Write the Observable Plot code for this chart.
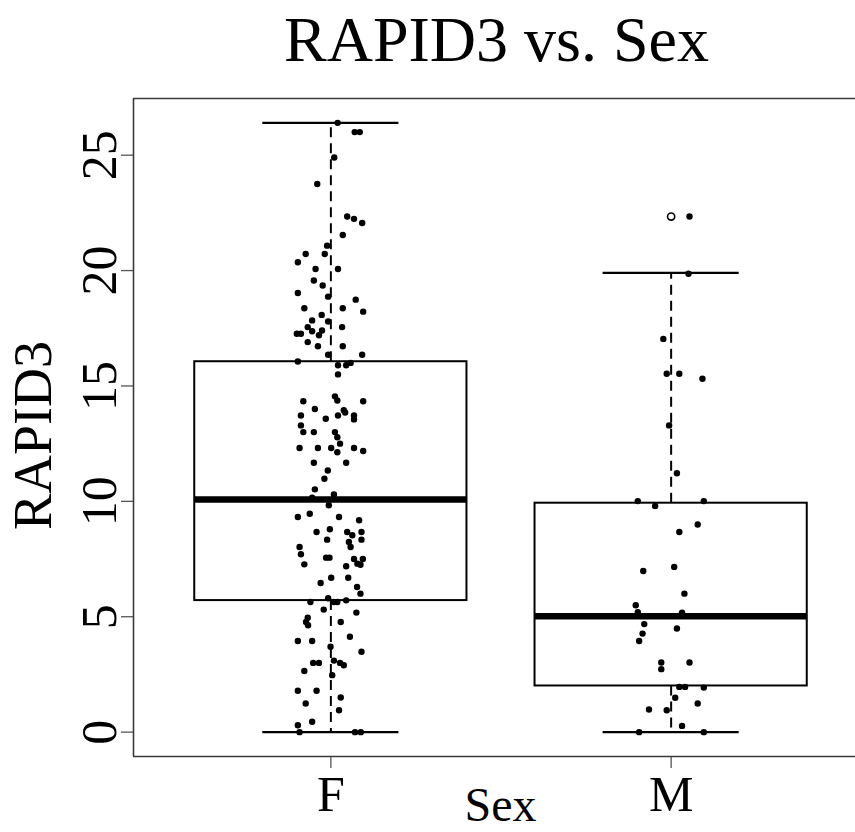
<!DOCTYPE html>
<html><head><meta charset="utf-8">
<script src="https://cdn.jsdelivr.net/npm/d3@7"></script>
<script src="https://cdn.jsdelivr.net/npm/@observablehq/plot@0.6"></script>
<style>body{margin:0;background:#fff}</style>
</head><body><div id="chart"></div>
<script>
const sexes = ["F", "M"];
const positions = [1, 2];

// RAPID3 values (F) and their horizontal jitter offsets
const fVals = [
  26.4, 26.0, 26.0, 24.9, 23.75, 22.34, 22.24, 22.06, 21.54, 21.08,
  20.72, 20.72, 20.36, 20.07, 20.07, 19.57, 19.35, 19.03, 18.87, 18.74,
  18.37, 18.37, 18.22, 18.08, 17.84, 17.79, 17.55, 17.55, 17.26, 17.26,
  17.37, 17.2, 17.4, 16.9, 16.72, 16.72, 16.35, 16.35, 16.06, 15.9,
  15.9, 16.0, 15.5, 14.55, 14.37, 14.34, 14.34, 14.0, 13.95, 13.85,
  13.72, 13.58, 13.72, 13.72, 13.55, 13.29, 13.0, 13.0, 13.0, 12.78,
  12.5, 12.31, 12.31, 12.31, 12.13, 12.31, 12.18, 11.67, 11.67, 11.34,
  10.98, 10.52, 10.16, 10.3, 9.83, 9.32, 9.46, 9.32, 9.18, 8.67,
  8.79, 8.67, 8.53, 8.67, 8.34, 8.24, 8.02, 8.34, 8.02, 7.71,
  7.56, 7.56, 7.5, 7.3, 7.5, 7.25, 7.27, 7.19, 6.46, 6.69,
  6.69, 6.29, 6.0, 5.64, 5.8, 5.64, 5.64, 5.71, 5.31, 5.18,
  4.96, 4.77, 4.63, 4.77, 3.95, 3.95, 4.13, 3.7, 3.48, 3.0,
  3.0, 3.1, 3.0, 2.9, 2.65, 2.47, 1.79, 1.79, 1.5, 1.24,
  0.95, 0.45, 0.3, 0.0, 0.0, 0.0
];
const fJit = [
  0.02, 0.07, 0.085, 0.01, -0.04, 0.048, 0.068, 0.092, 0.035, -0.011,
  -0.074, -0.018, -0.097, -0.045, 0.021, -0.05, -0.024, -0.097, -0.008, 0.073,
  -0.078, 0.035, 0.095, -0.027, -0.055, -0.008, -0.068, 0.033, -0.1, -0.088,
  -0.055, -0.035, -0.026, -0.068, -0.038, 0.035, -0.008, 0.092, -0.097, 0.021,
  0.045, 0.058, 0.021, 0.012, 0.019, -0.081, 0.095, -0.047, 0.038, 0.042,
  -0.088, -0.015, 0.021, 0.068, 0.068, -0.088, -0.081, -0.05, 0.012, 0.019,
  0.027, -0.092, -0.038, 0.001, 0.019, 0.068, 0.095, -0.05, 0.045, -0.009,
  -0.019, -0.047, -0.055, 0.009, -0.006, -0.097, -0.062, 0.024, 0.083, -0.042,
  -0.003, 0.048, 0.063, 0.09, -0.011, 0.053, 0.058, 0.09, -0.092, -0.088,
  -0.014, -0.004, 0.068, 0.078, 0.094, 0.087, -0.078, 0.045, -0.03, 0.001,
  0.051, 0.077, 0.087, -0.06, -0.008, 0.009, 0.019, 0.045, -0.021, 0.075,
  -0.068, -0.073, -0.067, 0.029, -0.097, -0.055, 0.056, -0.001, 0.09, -0.052,
  -0.035, 0.009, 0.027, 0.038, -0.078, 0.004, -0.097, -0.042, 0.029, -0.074,
  0.024, -0.055, -0.097, -0.092, 0.071, 0.088
];

// RAPID3 values (M) and jitter offsets
const mVals = [
  22.34, 19.86, 17.04, 15.53, 15.53, 15.31, 13.29, 11.22, 10.01, 9.8,
  10.01, 9.0, 8.67, 6.98, 7.16, 6.0, 5.5, 5.2, 5.18, 4.68,
  4.27, 3.95, 4.49, 3.02, 2.73, 3.02, 1.96, 1.96, 1.93, 1.49,
  0.98, 0.95, 1.24, 0.27, 0.0, 0.0
];
const mJit = [
  0.054, 0.051, -0.023, -0.013, 0.024, 0.092, -0.006, 0.017, -0.098, -0.047,
  0.096, 0.078, 0.024, -0.082, 0.009, 0.039, -0.104, -0.098, 0.032, -0.079,
  -0.084, -0.094, 0.017, -0.029, -0.029, 0.054, 0.024, 0.041, 0.096, 0.012,
  -0.065, -0.013, 0.078, 0.032, -0.094, 0.096
];

// Boxplot statistics per group (F, M)
const lowerWhisker = [0, 0];
const q1 = [5.7, 2.0];
const medians = [10.08, 5.02];
const q3 = [16.05, 9.92];
const upperWhisker = [26.4, 19.9];
const outlierPos = [2];
const outlierVals = [22.34];

const yTicks = [0, 5, 10, 15, 20, 25];
const titleText = "RAPID3 vs. Sex";
const xLabel = "Sex";
const yLabel = "RAPID3";

// R-style 4% axis extension
const yMin = 0, yMax = 26.4;
const yPad = 0.04 * (yMax - yMin);
const yDomain = [yMin - yPad, yMax + yPad];
const xPad = 0.04 * 2;
const xDomain = [0.5 - xPad, 2.5 + xPad];
const boxHalf = 0.4, stapleHalf = 0.2;

const points = [
  ...fVals.map((v, i) => ({x: positions[0] + fJit[i], v})),
  ...mVals.map((v, i) => ({x: positions[1] + mJit[i], v}))
];
const boxes = sexes.map((s, i) => ({
  s, pos: positions[i], lo: lowerWhisker[i], q1: q1[i], med: medians[i], q3: q3[i], hi: upperWhisker[i]
}));
const outliers = outlierPos.map((p, i) => ({x: p, v: outlierVals[i]}));

const font = "'Liberation Serif', 'Times New Roman', serif";
const frameColor = "#3a3a3a";

const chart = Plot.plot({
  width: 855,
  height: 832,
  marginLeft: 133,
  marginRight: 0,
  marginTop: 98,
  marginBottom: 76,
  style: {fontFamily: font, background: "white", color: "black", overflow: "hidden"},
  x: {domain: xDomain, range: [133, 868]},
  y: {domain: yDomain},
  marks: [
    Plot.axisY(yTicks, {tickSize: 12, tickFormat: () => null, label: null, stroke: "#555", strokeWidth: 1.3}),
    Plot.axisX(positions, {tickSize: 12, tickFormat: () => null, label: null, stroke: "#555", strokeWidth: 1.3}),
    // frame (right side lies outside the crop)
    Plot.ruleY([yDomain[1]], {stroke: frameColor, strokeWidth: 1.6}),
    Plot.ruleY([yDomain[0]], {stroke: frameColor, strokeWidth: 1.6}),
    Plot.ruleX([xDomain[0]], {stroke: frameColor, strokeWidth: 1.6}),
    // whiskers
    Plot.ruleX(boxes, {x: "pos", y1: "q3", y2: "hi", stroke: "black", strokeWidth: 2, strokeDasharray: "10,6"}),
    Plot.ruleX(boxes, {x: "pos", y1: "q1", y2: "lo", stroke: "black", strokeWidth: 2, strokeDasharray: "10,6"}),
    // staples
    Plot.ruleY(boxes, {y: "hi", x1: d => d.pos - stapleHalf, x2: d => d.pos + stapleHalf, stroke: "black", strokeWidth: 2.2}),
    Plot.ruleY(boxes, {y: "lo", x1: d => d.pos - stapleHalf, x2: d => d.pos + stapleHalf, stroke: "black", strokeWidth: 2.2}),
    // boxes
    Plot.rect(boxes, {x1: d => d.pos - boxHalf, x2: d => d.pos + boxHalf, y1: "q1", y2: "q3", fill: "none", stroke: "black", strokeWidth: 2}),
    // medians
    Plot.ruleY(boxes, {y: "med", x1: d => d.pos - boxHalf, x2: d => d.pos + boxHalf, stroke: "black", strokeWidth: 6.5}),
    // jittered points
    Plot.dot(points, {x: "x", y: "v", r: 3.2, fill: "black", stroke: "none"}),
    // outlier
    Plot.dot(outliers, {x: "x", y: "v", r: 3.6, fill: "white", stroke: "black", strokeWidth: 1.6}),
    // y tick labels
    Plot.text(yTicks, {y: d => d, text: d => String(d), frameAnchor: "left", rotate: -90, dx: -18, lineAnchor: "bottom", textAnchor: "middle", fontSize: 50, fill: "black", fontFamily: font}),
    // x tick labels
    Plot.text(sexes, {x: (d, i) => positions[i], text: d => d, frameAnchor: "bottom", lineAnchor: "bottom", dy: 54, fontSize: 50, fill: "black", fontFamily: font}),
    // axis titles
    Plot.text([xLabel], {frameAnchor: "bottom", dx: 6, dy: 64, lineAnchor: "bottom", textAnchor: "middle", fontSize: 48, fill: "black", fontFamily: font}),
    Plot.text([yLabel], {frameAnchor: "left", rotate: -90, dx: -83, dy: 8, lineAnchor: "bottom", textAnchor: "middle", fontSize: 54, fill: "black", fontFamily: font}),
    // main title
    Plot.text([titleText], {frameAnchor: "top", dx: 2, dy: -38, lineAnchor: "bottom", textAnchor: "middle", fontSize: 64, fill: "black", fontFamily: font})
  ]
});
document.getElementById("chart").appendChild(chart);
</script>
</body></html>
